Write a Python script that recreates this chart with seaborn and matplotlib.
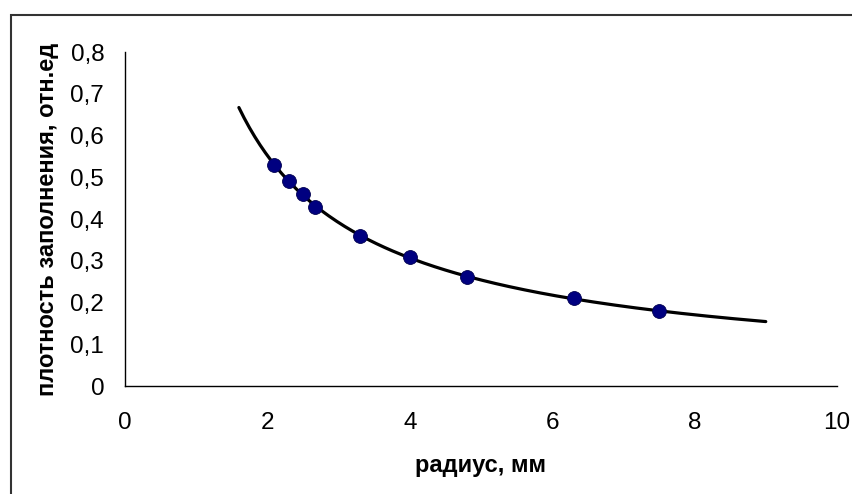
import numpy as np
import matplotlib
matplotlib.use('Agg')
import matplotlib.pyplot as plt
import seaborn as sns
from matplotlib.patches import Rectangle
from matplotlib.ticker import FuncFormatter

# measured points: radius (mm) vs filling density (rel. units)
radius = [2.1, 2.3, 2.5, 2.67, 3.3, 4.0, 4.8, 6.3, 7.5]
density = [0.53, 0.49, 0.46, 0.43, 0.36, 0.31, 0.26, 0.21, 0.18]
x_ticks = [0, 2, 4, 6, 8, 10]
y_ticks = [0, 0.1, 0.2, 0.3, 0.4, 0.5, 0.6, 0.7, 0.8]
trend_range = (1.6, 9.0)

sns.set_style('white')
plt.rcParams['font.family'] = ['Liberation Sans', 'DejaVu Sans']

fig = plt.figure(figsize=(8.53, 4.94), dpi=100)
ax = fig.add_axes([0.1465, 0.2186, 0.8347, 0.676])

# power-law trend line fitted to the points (as in the original spreadsheet)
b, ln_a = np.polyfit(np.log(radius), np.log(density), 1)
xt = np.linspace(trend_range[0], trend_range[1], 200)
yt = np.exp(ln_a) * xt ** b
sns.lineplot(x=xt, y=yt, ax=ax, color='black', linewidth=2.3, zorder=2)

sns.scatterplot(x=radius, y=density, ax=ax, s=100, color='#000080',
                edgecolor='#000050', linewidth=0.6, zorder=3)

ax.set_xlim(0, 10)
ax.set_ylim(0, 0.8)
ax.set_xticks(x_ticks)
ax.set_yticks(y_ticks)
ax.xaxis.set_major_formatter(FuncFormatter(lambda v, p: f'{v:g}'))
ax.yaxis.set_major_formatter(FuncFormatter(lambda v, p: f'{v:g}'.replace('.', ',')))

for side in ['top', 'right']:
    ax.spines[side].set_visible(False)
for side in ['left', 'bottom']:
    ax.spines[side].set_color('black')
    ax.spines[side].set_linewidth(1.0)

ax.tick_params(axis='both', direction='out', length=6, width=1, color='black',
               labelsize=17.5, labelcolor='black')
ax.tick_params(axis='x', pad=13)
ax.tick_params(axis='y', pad=9)

ax.set_xlabel('радиус, мм', fontsize=17, fontweight='bold', labelpad=14, color='black')
ax.set_ylabel('плотность заполнения, отн.ед', fontsize=17, fontweight='bold',
              labelpad=8, color='black')

# outer chart border
fig.patches.append(Rectangle((11 / 853, -0.05), 1.2, 1 - 15 / 494 + 0.05,
                             transform=fig.transFigure, fill=False,
                             edgecolor='#333333', linewidth=1.5))

fig.savefig('out.png', dpi=100)
